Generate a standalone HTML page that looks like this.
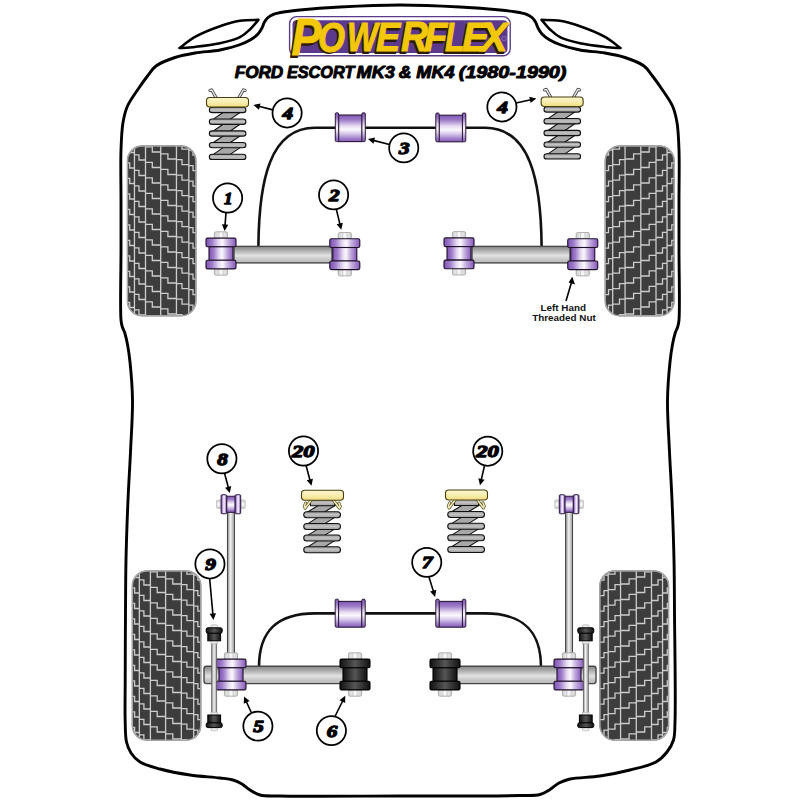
<!DOCTYPE html><html><head><meta charset="utf-8"><style>html,body{margin:0;padding:0;background:#fff;}svg{display:block;}</style></head><body><svg width="800" height="800" viewBox="0 0 800 800">
<defs>
<linearGradient id="pgH" x1="0" y1="0" x2="1" y2="0">
 <stop offset="0" stop-color="#7d52b2"/><stop offset="0.2" stop-color="#a07ecb"/><stop offset="0.42" stop-color="#e6daf1"/><stop offset="0.55" stop-color="#fbf8fd"/><stop offset="0.72" stop-color="#c8b3e0"/><stop offset="1" stop-color="#8658bb"/>
</linearGradient>
<linearGradient id="pgV" x1="0" y1="0" x2="0" y2="1">
 <stop offset="0" stop-color="#8058b2"/><stop offset="0.18" stop-color="#9c7ac6"/><stop offset="0.42" stop-color="#e8ddf2"/><stop offset="0.55" stop-color="#fbf8fd"/><stop offset="0.7" stop-color="#d8c9e9"/><stop offset="0.88" stop-color="#a080cb"/><stop offset="1" stop-color="#885cba"/>
</linearGradient>
<linearGradient id="bgH" x1="0" y1="0" x2="1" y2="0">
 <stop offset="0" stop-color="#111"/><stop offset="0.5" stop-color="#555"/><stop offset="1" stop-color="#111"/>
</linearGradient>
<linearGradient id="boltH" x1="0" y1="0" x2="1" y2="0">
 <stop offset="0" stop-color="#cfcfcf"/><stop offset="0.5" stop-color="#fafafa"/><stop offset="1" stop-color="#cfcfcf"/>
</linearGradient>
<linearGradient id="armV" x1="0" y1="0" x2="0" y2="1">
 <stop offset="0" stop-color="#8c8c8c"/><stop offset="0.15" stop-color="#9c9c9c"/><stop offset="0.55" stop-color="#e2e2e2"/><stop offset="0.8" stop-color="#c6c6c6"/><stop offset="1" stop-color="#b8b8b8"/>
</linearGradient>
<linearGradient id="rodH" x1="0" y1="0" x2="1" y2="0">
 <stop offset="0" stop-color="#8a8a8a"/><stop offset="0.45" stop-color="#f2f2f2"/><stop offset="1" stop-color="#9a9a9a"/>
</linearGradient>
<linearGradient id="boltV" x1="0" y1="0" x2="0" y2="1">
 <stop offset="0" stop-color="#cfcfcf"/><stop offset="0.5" stop-color="#fafafa"/><stop offset="1" stop-color="#cfcfcf"/>
</linearGradient>
<linearGradient id="coilV" x1="0" y1="0" x2="0" y2="1">
 <stop offset="0" stop-color="#9a9a9a"/><stop offset="0.5" stop-color="#c4c4c4"/><stop offset="1" stop-color="#9a9a9a"/>
</linearGradient>
<linearGradient id="padV" x1="0" y1="0" x2="0" y2="1">
 <stop offset="0" stop-color="#fbf6cf"/><stop offset="0.5" stop-color="#f8eeb0"/><stop offset="1" stop-color="#efdc80"/>
</linearGradient>
</defs>
<rect width="800" height="800" fill="#fff"/>
<path d="M400.00,5.00 C380.00,5.00 357.97,6.03 340.00,7.00 C325.31,7.80 310.12,9.01 300.00,10.00 C293.79,10.61 289.60,11.02 285.00,11.80 C281.03,12.47 277.05,13.06 274.00,14.20 C271.62,15.09 269.62,16.12 268.00,17.50 C266.52,18.76 265.48,20.32 264.50,22.00 C263.45,23.79 263.04,26.05 262.00,28.00 C260.90,30.05 259.70,32.17 258.00,34.00 C256.12,36.04 253.76,37.81 251.00,39.50 C247.64,41.55 243.54,43.38 239.00,45.00 C233.47,46.98 226.82,48.70 220.00,50.00 C212.28,51.47 202.84,51.65 195.00,53.00 C187.93,54.22 181.48,55.35 175.00,57.50 C168.47,59.67 160.79,62.41 156.00,66.00 C152.19,68.85 150.37,72.32 147.50,76.00 C144.21,80.21 140.76,85.13 137.50,90.00 C134.09,95.11 129.93,100.44 127.50,106.00 C125.18,111.29 124.07,116.24 123.00,122.50 C121.64,130.45 121.38,139.47 121.00,150.00 C120.48,164.19 121.00,183.33 121.00,200.00 C121.00,216.67 121.00,231.93 121.00,250.00 C121.00,271.38 120.00,309.12 121.00,320.00 C121.31,323.34 121.58,324.36 122.20,326.50 C122.84,328.70 124.00,330.47 124.80,333.00 C125.86,336.36 126.78,340.63 127.60,345.00 C128.56,350.15 129.30,355.19 130.00,362.00 C131.05,372.14 132.31,386.46 132.50,400.00 C132.72,415.52 131.35,433.34 130.60,450.00 C129.85,466.67 128.74,482.57 128.00,500.00 C127.19,519.09 126.41,540.71 126.00,560.00 C125.61,577.95 125.63,593.51 125.50,612.00 C125.35,633.15 125.24,660.05 125.20,680.00 C125.17,695.68 124.83,710.57 125.20,722.00 C125.46,729.89 125.21,736.41 126.50,742.00 C127.49,746.30 128.81,749.71 131.00,753.00 C133.26,756.40 136.05,759.52 140.00,762.00 C145.09,765.20 152.58,766.97 160.00,769.00 C168.91,771.44 179.96,773.50 190.00,775.00 C199.96,776.49 212.07,776.99 220.00,778.00 C225.24,778.66 229.13,778.86 233.00,780.00 C236.35,780.98 239.18,782.34 242.00,784.00 C244.85,785.67 247.10,788.21 250.00,790.00 C253.07,791.90 255.96,793.94 260.00,795.00 C265.40,796.42 270.53,795.76 280.00,796.00 C303.19,796.58 360.00,796.08 400.00,796.00 C440.00,795.92 496.81,796.13 520.00,795.50 C529.47,795.24 534.60,795.92 540.00,794.50 C544.04,793.44 546.83,791.42 550.00,789.50 C553.16,787.59 555.72,784.74 559.00,783.00 C562.37,781.22 565.35,780.06 570.00,779.00 C577.46,777.30 590.04,777.49 600.00,776.00 C610.04,774.50 620.42,772.43 630.00,770.00 C639.04,767.71 649.46,765.73 656.00,762.00 C660.83,759.25 664.05,755.76 667.00,752.00 C669.83,748.39 672.14,744.57 673.50,740.00 C675.07,734.75 674.66,730.55 675.00,722.00 C675.83,700.89 674.71,641.88 674.50,612.00 C674.35,591.46 674.39,577.95 674.00,560.00 C673.59,540.71 672.81,519.09 672.00,500.00 C671.26,482.57 670.15,466.67 669.40,450.00 C668.65,433.34 667.28,415.52 667.50,400.00 C667.69,386.46 668.95,372.14 670.00,362.00 C670.70,355.19 671.44,350.15 672.40,345.00 C673.22,340.63 674.14,336.36 675.20,333.00 C676.00,330.47 677.16,328.70 677.80,326.50 C678.42,324.36 678.69,323.34 679.00,320.00 C680.00,309.12 679.00,271.38 679.00,250.00 C679.00,231.93 679.00,216.67 679.00,200.00 C679.00,183.33 679.52,164.19 679.00,150.00 C678.62,139.47 678.36,130.45 677.00,122.50 C675.93,116.24 674.82,111.29 672.50,106.00 C670.07,100.44 665.91,95.11 662.50,90.00 C659.24,85.13 655.79,80.21 652.50,76.00 C649.63,72.32 647.81,68.85 644.00,66.00 C639.21,62.41 631.53,59.67 625.00,57.50 C618.52,55.35 612.07,54.22 605.00,53.00 C597.16,51.65 587.72,51.47 580.00,50.00 C573.18,48.70 566.53,46.98 561.00,45.00 C556.46,43.38 552.36,41.55 549.00,39.50 C546.24,37.81 543.88,36.04 542.00,34.00 C540.30,32.17 539.10,30.05 538.00,28.00 C536.96,26.05 536.55,23.79 535.50,22.00 C534.52,20.32 533.48,18.76 532.00,17.50 C530.38,16.12 528.38,15.09 526.00,14.20 C522.95,13.06 518.97,12.47 515.00,11.80 C510.40,11.02 506.21,10.61 500.00,10.00 C489.88,9.01 474.69,7.80 460.00,7.00 C442.03,6.03 420.00,5.00 400.00,5.00Z" fill="none" stroke="#000" stroke-width="2.9"/>
<path d="M179.40,48.10 C182.00,46.23 188.98,40.29 195.00,36.90 C202.17,32.87 212.04,29.02 220.00,26.25 C226.95,23.83 233.41,21.86 240.00,20.80 C246.23,19.79 255.42,19.97 258.50,19.80 C256.98,21.50 252.61,27.03 249.40,30.00 C246.42,32.77 243.94,35.17 240.00,37.20 C234.76,39.89 227.10,41.72 220.00,43.30 C212.19,45.04 202.37,46.09 195.00,46.90 C189.20,47.54 182.00,47.90 179.40,48.10Z" fill="none" stroke="#000" stroke-width="2.5" stroke-linejoin="round"/>
<g transform="translate(800,0) scale(-1,1)"><path d="M179.40,48.10 C182.00,46.23 188.98,40.29 195.00,36.90 C202.17,32.87 212.04,29.02 220.00,26.25 C226.95,23.83 233.41,21.86 240.00,20.80 C246.23,19.79 255.42,19.97 258.50,19.80 C256.98,21.50 252.61,27.03 249.40,30.00 C246.42,32.77 243.94,35.17 240.00,37.20 C234.76,39.89 227.10,41.72 220.00,43.30 C212.19,45.04 202.37,46.09 195.00,46.90 C189.20,47.54 182.00,47.90 179.40,48.10Z" fill="none" stroke="#000" stroke-width="2.5" stroke-linejoin="round"/></g>
<rect x="289.6" y="16.6" width="220.6" height="39.2" rx="7" fill="#fff" stroke="#5a3a8a" stroke-width="1.4"/>
<rect x="292.5" y="20.3" width="215" height="32.6" rx="4" fill="#5b3a8e"/>
<g font-family="Liberation Sans" font-weight="bold" font-style="italic" transform="translate(-1.6,1.6)" fill="#2b1a08" stroke="#2b1a08" stroke-width="1.8" stroke-linejoin="round"><text x="291.50" y="55.00" font-size="51.44" textLength="29.76" lengthAdjust="spacingAndGlyphs">P</text><text x="318.00" y="51.50" font-size="42.52" textLength="26.97" lengthAdjust="spacingAndGlyphs">O</text><text x="347.00" y="51.00" font-size="40.47" textLength="30.69" lengthAdjust="spacingAndGlyphs">W</text><text x="376.00" y="51.00" font-size="40.47" textLength="24.18" lengthAdjust="spacingAndGlyphs">E</text><text x="401.00" y="51.00" font-size="41.84" textLength="26.97" lengthAdjust="spacingAndGlyphs">R</text><text x="424.00" y="51.00" font-size="40.47" textLength="23.25" lengthAdjust="spacingAndGlyphs">F</text><text x="445.00" y="51.00" font-size="40.47" textLength="19.53" lengthAdjust="spacingAndGlyphs">L</text><text x="462.00" y="51.00" font-size="40.47" textLength="26.97" lengthAdjust="spacingAndGlyphs">E</text><text x="481.00" y="51.00" font-size="40.47" textLength="26.51" lengthAdjust="spacingAndGlyphs">X</text></g>
<g font-family="Liberation Sans" font-weight="bold" font-style="italic" fill="#f3c80a" stroke="#f3c80a" stroke-width="1.0" stroke-linejoin="round"><text x="291.50" y="55.00" font-size="51.44" textLength="29.76" lengthAdjust="spacingAndGlyphs">P</text><text x="318.00" y="51.50" font-size="42.52" textLength="26.97" lengthAdjust="spacingAndGlyphs">O</text><text x="347.00" y="51.00" font-size="40.47" textLength="30.69" lengthAdjust="spacingAndGlyphs">W</text><text x="376.00" y="51.00" font-size="40.47" textLength="24.18" lengthAdjust="spacingAndGlyphs">E</text><text x="401.00" y="51.00" font-size="41.84" textLength="26.97" lengthAdjust="spacingAndGlyphs">R</text><text x="424.00" y="51.00" font-size="40.47" textLength="23.25" lengthAdjust="spacingAndGlyphs">F</text><text x="445.00" y="51.00" font-size="40.47" textLength="19.53" lengthAdjust="spacingAndGlyphs">L</text><text x="462.00" y="51.00" font-size="40.47" textLength="26.97" lengthAdjust="spacingAndGlyphs">E</text><text x="481.00" y="51.00" font-size="40.47" textLength="26.51" lengthAdjust="spacingAndGlyphs">X</text></g>
<circle cx="504" cy="38.5" r="2.2" fill="none" stroke="#a58fc0" stroke-width="0.6"/>
<g font-family="Liberation Sans" font-weight="bold" font-style="italic" font-size="15.6" fill="#000" stroke="#000" stroke-width="0.9" stroke-linejoin="round"><text x="234.70" y="77.5" textLength="48.50" lengthAdjust="spacingAndGlyphs">FORD</text><text x="286.90" y="77.5" textLength="67.50" lengthAdjust="spacingAndGlyphs">ESCORT</text><text x="356.60" y="77.5" textLength="38.30" lengthAdjust="spacingAndGlyphs">MK3</text><text x="398.80" y="77.5" textLength="12.65" lengthAdjust="spacingAndGlyphs">&amp;</text><text x="416.30" y="77.5" textLength="38.30" lengthAdjust="spacingAndGlyphs">MK4</text><text x="458.80" y="77.5" textLength="107.65" lengthAdjust="spacingAndGlyphs">(1980-1990)</text></g>
<clipPath id="c127145"><rect x="127.00" y="145.60" width="69.30" height="170.60" rx="15" ry="15"/></clipPath><rect x="127.00" y="145.60" width="69.30" height="170.60" rx="15" ry="15" fill="#3d3d3d"/><g clip-path="url(#c127145)"><g transform="translate(127.00,145.60)"><path d="M7.45,-2.00 V172.60 M18.50,-2.00 V172.60 M33.70,-2.00 V172.60 M49.45,-2.00 V172.60 M61.80,-2.00 V172.60 M0.00,1.80 H2.70 V6.90 H7.45 M0.00,17.30 H2.70 V22.40 H7.45 M0.00,32.80 H2.70 V37.90 H7.45 M0.00,48.30 H2.70 V53.40 H7.45 M0.00,63.80 H2.70 V68.90 H7.45 M0.00,79.30 H2.70 V84.40 H7.45 M0.00,94.80 H2.70 V99.90 H7.45 M0.00,110.30 H2.70 V115.40 H7.45 M0.00,125.80 H2.70 V130.90 H7.45 M0.00,141.30 H2.70 V146.40 H7.45 M0.00,156.80 H2.70 V161.90 H7.45 M0.00,172.30 H2.70 V177.40 H7.45 M7.45,-6.20 H12.00 V-1.10 H18.50 M7.45,9.30 H12.00 V14.40 H18.50 M7.45,24.80 H12.00 V29.90 H18.50 M7.45,40.30 H12.00 V45.40 H18.50 M7.45,55.80 H12.00 V60.90 H18.50 M7.45,71.30 H12.00 V76.40 H18.50 M7.45,86.80 H12.00 V91.90 H18.50 M7.45,102.30 H12.00 V107.40 H18.50 M7.45,117.80 H12.00 V122.90 H18.50 M7.45,133.30 H12.00 V138.40 H18.50 M7.45,148.80 H12.00 V153.90 H18.50 M7.45,164.30 H12.00 V169.40 H18.50 M18.50,1.30 H25.30 V6.40 H33.70 M18.50,16.80 H25.30 V21.90 H33.70 M18.50,32.30 H25.30 V37.40 H33.70 M18.50,47.80 H25.30 V52.90 H33.70 M18.50,63.30 H25.30 V68.40 H33.70 M18.50,78.80 H25.30 V83.90 H33.70 M18.50,94.30 H25.30 V99.40 H33.70 M18.50,109.80 H25.30 V114.90 H33.70 M18.50,125.30 H25.30 V130.40 H33.70 M18.50,140.80 H25.30 V145.90 H33.70 M18.50,156.30 H25.30 V161.40 H33.70 M18.50,171.80 H25.30 V176.90 H33.70 M33.70,-7.20 H40.90 V-2.10 H49.45 M33.70,8.30 H40.90 V13.40 H49.45 M33.70,23.80 H40.90 V28.90 H49.45 M33.70,39.30 H40.90 V44.40 H49.45 M33.70,54.80 H40.90 V59.90 H49.45 M33.70,70.30 H40.90 V75.40 H49.45 M33.70,85.80 H40.90 V90.90 H49.45 M33.70,101.30 H40.90 V106.40 H49.45 M33.70,116.80 H40.90 V121.90 H49.45 M33.70,132.30 H40.90 V137.40 H49.45 M33.70,147.80 H40.90 V152.90 H49.45 M33.70,163.30 H40.90 V168.40 H49.45 M49.45,-1.50 H55.00 V3.60 H61.80 M49.45,14.00 H55.00 V19.10 H61.80 M49.45,29.50 H55.00 V34.60 H61.80 M49.45,45.00 H55.00 V50.10 H61.80 M49.45,60.50 H55.00 V65.60 H61.80 M49.45,76.00 H55.00 V81.10 H61.80 M49.45,91.50 H55.00 V96.60 H61.80 M49.45,107.00 H55.00 V112.10 H61.80 M49.45,122.50 H55.00 V127.60 H61.80 M49.45,138.00 H55.00 V143.10 H61.80 M49.45,153.50 H55.00 V158.60 H61.80 M49.45,169.00 H55.00 V174.10 H61.80 M61.80,4.50 H66.00 V9.60 H70.00 M61.80,20.00 H66.00 V25.10 H70.00 M61.80,35.50 H66.00 V40.60 H70.00 M61.80,51.00 H66.00 V56.10 H70.00 M61.80,66.50 H66.00 V71.60 H70.00 M61.80,82.00 H66.00 V87.10 H70.00 M61.80,97.50 H66.00 V102.60 H70.00 M61.80,113.00 H66.00 V118.10 H70.00 M61.80,128.50 H66.00 V133.60 H70.00 M61.80,144.00 H66.00 V149.10 H70.00 M61.80,159.50 H66.00 V164.60 H70.00 M61.80,175.00 H66.00 V180.10 H70.00" stroke="#cdcdcd" stroke-width="1.3" fill="none"/></g></g><rect x="127.40" y="146.00" width="68.50" height="169.80" rx="15" ry="15" fill="none" stroke="#a6a6a6" stroke-width="1.5"/>
<clipPath id="c604145"><rect x="604.80" y="145.60" width="69.70" height="170.60" rx="15" ry="15"/></clipPath><rect x="604.80" y="145.60" width="69.70" height="170.60" rx="15" ry="15" fill="#3d3d3d"/><g clip-path="url(#c604145)"><g transform="translate(604.80,145.60) translate(69.70,0) scale(-1,1)"><path d="M7.45,-2.00 V172.60 M18.50,-2.00 V172.60 M33.70,-2.00 V172.60 M49.45,-2.00 V172.60 M61.80,-2.00 V172.60 M0.00,1.80 H2.70 V6.90 H7.45 M0.00,17.30 H2.70 V22.40 H7.45 M0.00,32.80 H2.70 V37.90 H7.45 M0.00,48.30 H2.70 V53.40 H7.45 M0.00,63.80 H2.70 V68.90 H7.45 M0.00,79.30 H2.70 V84.40 H7.45 M0.00,94.80 H2.70 V99.90 H7.45 M0.00,110.30 H2.70 V115.40 H7.45 M0.00,125.80 H2.70 V130.90 H7.45 M0.00,141.30 H2.70 V146.40 H7.45 M0.00,156.80 H2.70 V161.90 H7.45 M0.00,172.30 H2.70 V177.40 H7.45 M7.45,-6.20 H12.00 V-1.10 H18.50 M7.45,9.30 H12.00 V14.40 H18.50 M7.45,24.80 H12.00 V29.90 H18.50 M7.45,40.30 H12.00 V45.40 H18.50 M7.45,55.80 H12.00 V60.90 H18.50 M7.45,71.30 H12.00 V76.40 H18.50 M7.45,86.80 H12.00 V91.90 H18.50 M7.45,102.30 H12.00 V107.40 H18.50 M7.45,117.80 H12.00 V122.90 H18.50 M7.45,133.30 H12.00 V138.40 H18.50 M7.45,148.80 H12.00 V153.90 H18.50 M7.45,164.30 H12.00 V169.40 H18.50 M18.50,1.30 H25.30 V6.40 H33.70 M18.50,16.80 H25.30 V21.90 H33.70 M18.50,32.30 H25.30 V37.40 H33.70 M18.50,47.80 H25.30 V52.90 H33.70 M18.50,63.30 H25.30 V68.40 H33.70 M18.50,78.80 H25.30 V83.90 H33.70 M18.50,94.30 H25.30 V99.40 H33.70 M18.50,109.80 H25.30 V114.90 H33.70 M18.50,125.30 H25.30 V130.40 H33.70 M18.50,140.80 H25.30 V145.90 H33.70 M18.50,156.30 H25.30 V161.40 H33.70 M18.50,171.80 H25.30 V176.90 H33.70 M33.70,-7.20 H40.90 V-2.10 H49.45 M33.70,8.30 H40.90 V13.40 H49.45 M33.70,23.80 H40.90 V28.90 H49.45 M33.70,39.30 H40.90 V44.40 H49.45 M33.70,54.80 H40.90 V59.90 H49.45 M33.70,70.30 H40.90 V75.40 H49.45 M33.70,85.80 H40.90 V90.90 H49.45 M33.70,101.30 H40.90 V106.40 H49.45 M33.70,116.80 H40.90 V121.90 H49.45 M33.70,132.30 H40.90 V137.40 H49.45 M33.70,147.80 H40.90 V152.90 H49.45 M33.70,163.30 H40.90 V168.40 H49.45 M49.45,-1.50 H55.00 V3.60 H61.80 M49.45,14.00 H55.00 V19.10 H61.80 M49.45,29.50 H55.00 V34.60 H61.80 M49.45,45.00 H55.00 V50.10 H61.80 M49.45,60.50 H55.00 V65.60 H61.80 M49.45,76.00 H55.00 V81.10 H61.80 M49.45,91.50 H55.00 V96.60 H61.80 M49.45,107.00 H55.00 V112.10 H61.80 M49.45,122.50 H55.00 V127.60 H61.80 M49.45,138.00 H55.00 V143.10 H61.80 M49.45,153.50 H55.00 V158.60 H61.80 M49.45,169.00 H55.00 V174.10 H61.80 M61.80,4.50 H66.00 V9.60 H70.00 M61.80,20.00 H66.00 V25.10 H70.00 M61.80,35.50 H66.00 V40.60 H70.00 M61.80,51.00 H66.00 V56.10 H70.00 M61.80,66.50 H66.00 V71.60 H70.00 M61.80,82.00 H66.00 V87.10 H70.00 M61.80,97.50 H66.00 V102.60 H70.00 M61.80,113.00 H66.00 V118.10 H70.00 M61.80,128.50 H66.00 V133.60 H70.00 M61.80,144.00 H66.00 V149.10 H70.00 M61.80,159.50 H66.00 V164.60 H70.00 M61.80,175.00 H66.00 V180.10 H70.00" stroke="#cdcdcd" stroke-width="1.3" fill="none"/></g></g><rect x="605.20" y="146.00" width="68.90" height="169.80" rx="15" ry="15" fill="none" stroke="#a6a6a6" stroke-width="1.5"/>
<clipPath id="c131570"><rect x="131.90" y="570.60" width="69.30" height="170.00" rx="15" ry="15"/></clipPath><rect x="131.90" y="570.60" width="69.30" height="170.00" rx="15" ry="15" fill="#3d3d3d"/><g clip-path="url(#c131570)"><g transform="translate(131.90,570.60)"><path d="M7.45,-2.00 V172.00 M18.50,-2.00 V172.00 M33.70,-2.00 V172.00 M49.45,-2.00 V172.00 M61.80,-2.00 V172.00 M0.00,1.80 H2.70 V6.90 H7.45 M0.00,17.30 H2.70 V22.40 H7.45 M0.00,32.80 H2.70 V37.90 H7.45 M0.00,48.30 H2.70 V53.40 H7.45 M0.00,63.80 H2.70 V68.90 H7.45 M0.00,79.30 H2.70 V84.40 H7.45 M0.00,94.80 H2.70 V99.90 H7.45 M0.00,110.30 H2.70 V115.40 H7.45 M0.00,125.80 H2.70 V130.90 H7.45 M0.00,141.30 H2.70 V146.40 H7.45 M0.00,156.80 H2.70 V161.90 H7.45 M0.00,172.30 H2.70 V177.40 H7.45 M7.45,-6.20 H12.00 V-1.10 H18.50 M7.45,9.30 H12.00 V14.40 H18.50 M7.45,24.80 H12.00 V29.90 H18.50 M7.45,40.30 H12.00 V45.40 H18.50 M7.45,55.80 H12.00 V60.90 H18.50 M7.45,71.30 H12.00 V76.40 H18.50 M7.45,86.80 H12.00 V91.90 H18.50 M7.45,102.30 H12.00 V107.40 H18.50 M7.45,117.80 H12.00 V122.90 H18.50 M7.45,133.30 H12.00 V138.40 H18.50 M7.45,148.80 H12.00 V153.90 H18.50 M7.45,164.30 H12.00 V169.40 H18.50 M18.50,1.30 H25.30 V6.40 H33.70 M18.50,16.80 H25.30 V21.90 H33.70 M18.50,32.30 H25.30 V37.40 H33.70 M18.50,47.80 H25.30 V52.90 H33.70 M18.50,63.30 H25.30 V68.40 H33.70 M18.50,78.80 H25.30 V83.90 H33.70 M18.50,94.30 H25.30 V99.40 H33.70 M18.50,109.80 H25.30 V114.90 H33.70 M18.50,125.30 H25.30 V130.40 H33.70 M18.50,140.80 H25.30 V145.90 H33.70 M18.50,156.30 H25.30 V161.40 H33.70 M18.50,171.80 H25.30 V176.90 H33.70 M33.70,-7.20 H40.90 V-2.10 H49.45 M33.70,8.30 H40.90 V13.40 H49.45 M33.70,23.80 H40.90 V28.90 H49.45 M33.70,39.30 H40.90 V44.40 H49.45 M33.70,54.80 H40.90 V59.90 H49.45 M33.70,70.30 H40.90 V75.40 H49.45 M33.70,85.80 H40.90 V90.90 H49.45 M33.70,101.30 H40.90 V106.40 H49.45 M33.70,116.80 H40.90 V121.90 H49.45 M33.70,132.30 H40.90 V137.40 H49.45 M33.70,147.80 H40.90 V152.90 H49.45 M33.70,163.30 H40.90 V168.40 H49.45 M49.45,-1.50 H55.00 V3.60 H61.80 M49.45,14.00 H55.00 V19.10 H61.80 M49.45,29.50 H55.00 V34.60 H61.80 M49.45,45.00 H55.00 V50.10 H61.80 M49.45,60.50 H55.00 V65.60 H61.80 M49.45,76.00 H55.00 V81.10 H61.80 M49.45,91.50 H55.00 V96.60 H61.80 M49.45,107.00 H55.00 V112.10 H61.80 M49.45,122.50 H55.00 V127.60 H61.80 M49.45,138.00 H55.00 V143.10 H61.80 M49.45,153.50 H55.00 V158.60 H61.80 M49.45,169.00 H55.00 V174.10 H61.80 M61.80,4.50 H66.00 V9.60 H70.00 M61.80,20.00 H66.00 V25.10 H70.00 M61.80,35.50 H66.00 V40.60 H70.00 M61.80,51.00 H66.00 V56.10 H70.00 M61.80,66.50 H66.00 V71.60 H70.00 M61.80,82.00 H66.00 V87.10 H70.00 M61.80,97.50 H66.00 V102.60 H70.00 M61.80,113.00 H66.00 V118.10 H70.00 M61.80,128.50 H66.00 V133.60 H70.00 M61.80,144.00 H66.00 V149.10 H70.00 M61.80,159.50 H66.00 V164.60 H70.00 M61.80,175.00 H66.00 V180.10 H70.00" stroke="#cdcdcd" stroke-width="1.3" fill="none"/></g></g><rect x="132.30" y="571.00" width="68.50" height="169.20" rx="15" ry="15" fill="none" stroke="#a6a6a6" stroke-width="1.5"/>
<clipPath id="c599570"><rect x="599.50" y="570.60" width="69.50" height="170.00" rx="15" ry="15"/></clipPath><rect x="599.50" y="570.60" width="69.50" height="170.00" rx="15" ry="15" fill="#3d3d3d"/><g clip-path="url(#c599570)"><g transform="translate(599.50,570.60) translate(70.50,0) scale(-1,1)"><path d="M7.45,-2.00 V172.00 M18.50,-2.00 V172.00 M33.70,-2.00 V172.00 M49.45,-2.00 V172.00 M61.80,-2.00 V172.00 M0.00,1.80 H2.70 V6.90 H7.45 M0.00,17.30 H2.70 V22.40 H7.45 M0.00,32.80 H2.70 V37.90 H7.45 M0.00,48.30 H2.70 V53.40 H7.45 M0.00,63.80 H2.70 V68.90 H7.45 M0.00,79.30 H2.70 V84.40 H7.45 M0.00,94.80 H2.70 V99.90 H7.45 M0.00,110.30 H2.70 V115.40 H7.45 M0.00,125.80 H2.70 V130.90 H7.45 M0.00,141.30 H2.70 V146.40 H7.45 M0.00,156.80 H2.70 V161.90 H7.45 M0.00,172.30 H2.70 V177.40 H7.45 M7.45,-6.20 H12.00 V-1.10 H18.50 M7.45,9.30 H12.00 V14.40 H18.50 M7.45,24.80 H12.00 V29.90 H18.50 M7.45,40.30 H12.00 V45.40 H18.50 M7.45,55.80 H12.00 V60.90 H18.50 M7.45,71.30 H12.00 V76.40 H18.50 M7.45,86.80 H12.00 V91.90 H18.50 M7.45,102.30 H12.00 V107.40 H18.50 M7.45,117.80 H12.00 V122.90 H18.50 M7.45,133.30 H12.00 V138.40 H18.50 M7.45,148.80 H12.00 V153.90 H18.50 M7.45,164.30 H12.00 V169.40 H18.50 M18.50,1.30 H25.30 V6.40 H33.70 M18.50,16.80 H25.30 V21.90 H33.70 M18.50,32.30 H25.30 V37.40 H33.70 M18.50,47.80 H25.30 V52.90 H33.70 M18.50,63.30 H25.30 V68.40 H33.70 M18.50,78.80 H25.30 V83.90 H33.70 M18.50,94.30 H25.30 V99.40 H33.70 M18.50,109.80 H25.30 V114.90 H33.70 M18.50,125.30 H25.30 V130.40 H33.70 M18.50,140.80 H25.30 V145.90 H33.70 M18.50,156.30 H25.30 V161.40 H33.70 M18.50,171.80 H25.30 V176.90 H33.70 M33.70,-7.20 H40.90 V-2.10 H49.45 M33.70,8.30 H40.90 V13.40 H49.45 M33.70,23.80 H40.90 V28.90 H49.45 M33.70,39.30 H40.90 V44.40 H49.45 M33.70,54.80 H40.90 V59.90 H49.45 M33.70,70.30 H40.90 V75.40 H49.45 M33.70,85.80 H40.90 V90.90 H49.45 M33.70,101.30 H40.90 V106.40 H49.45 M33.70,116.80 H40.90 V121.90 H49.45 M33.70,132.30 H40.90 V137.40 H49.45 M33.70,147.80 H40.90 V152.90 H49.45 M33.70,163.30 H40.90 V168.40 H49.45 M49.45,-1.50 H55.00 V3.60 H61.80 M49.45,14.00 H55.00 V19.10 H61.80 M49.45,29.50 H55.00 V34.60 H61.80 M49.45,45.00 H55.00 V50.10 H61.80 M49.45,60.50 H55.00 V65.60 H61.80 M49.45,76.00 H55.00 V81.10 H61.80 M49.45,91.50 H55.00 V96.60 H61.80 M49.45,107.00 H55.00 V112.10 H61.80 M49.45,122.50 H55.00 V127.60 H61.80 M49.45,138.00 H55.00 V143.10 H61.80 M49.45,153.50 H55.00 V158.60 H61.80 M49.45,169.00 H55.00 V174.10 H61.80 M61.80,4.50 H66.00 V9.60 H70.00 M61.80,20.00 H66.00 V25.10 H70.00 M61.80,35.50 H66.00 V40.60 H70.00 M61.80,51.00 H66.00 V56.10 H70.00 M61.80,66.50 H66.00 V71.60 H70.00 M61.80,82.00 H66.00 V87.10 H70.00 M61.80,97.50 H66.00 V102.60 H70.00 M61.80,113.00 H66.00 V118.10 H70.00 M61.80,128.50 H66.00 V133.60 H70.00 M61.80,144.00 H66.00 V149.10 H70.00 M61.80,159.50 H66.00 V164.60 H70.00 M61.80,175.00 H66.00 V180.10 H70.00" stroke="#cdcdcd" stroke-width="1.3" fill="none"/></g></g><rect x="599.90" y="571.00" width="68.70" height="169.20" rx="15" ry="15" fill="none" stroke="#a6a6a6" stroke-width="1.5"/>
<g transform="translate(206.50,97.50)"><path d="M9.8,0.5 L5.2,-7.6 L3.4,-7.0" stroke="#3a3a3a" stroke-width="3.0" fill="none" stroke-linecap="round" stroke-linejoin="round"/><path d="M9.8,0.5 L5.2,-7.6 L3.4,-7.0" stroke="#e6e6e6" stroke-width="1.5" fill="none" stroke-linecap="round" stroke-linejoin="round"/><path d="M32.2,0.5 L36.8,-7.6 L38.6,-7.0" stroke="#3a3a3a" stroke-width="3.0" fill="none" stroke-linecap="round" stroke-linejoin="round"/><path d="M32.2,0.5 L36.8,-7.6 L38.6,-7.0" stroke="#e6e6e6" stroke-width="1.5" fill="none" stroke-linecap="round" stroke-linejoin="round"/><path d="M5.45,22.65 L22.35,22.65 L35.05,14.00 L18.05,14.00 Z" fill="#a8a8a8" stroke="#111" stroke-width="1.1" stroke-linejoin="round"/><path d="M5.45,34.45 L22.35,34.45 L35.05,25.75 L18.05,25.75 Z" fill="#a8a8a8" stroke="#111" stroke-width="1.1" stroke-linejoin="round"/><path d="M5.45,46.05 L22.35,46.05 L35.05,37.55 L18.05,37.55 Z" fill="#a8a8a8" stroke="#111" stroke-width="1.1" stroke-linejoin="round"/><path d="M5.45,57.85 L22.35,57.85 L35.05,49.15 L18.05,49.15 Z" fill="#a8a8a8" stroke="#111" stroke-width="1.1" stroke-linejoin="round"/><rect x="2.85" y="9.80" width="36.55" height="5.30" rx="2.65" fill="url(#coilV)" stroke="#111" stroke-width="1.1"/><rect x="2.85" y="21.55" width="36.55" height="5.30" rx="2.65" fill="url(#coilV)" stroke="#111" stroke-width="1.1"/><rect x="2.85" y="33.35" width="36.55" height="5.30" rx="2.65" fill="url(#coilV)" stroke="#111" stroke-width="1.1"/><rect x="2.85" y="44.95" width="36.55" height="5.30" rx="2.65" fill="url(#coilV)" stroke="#111" stroke-width="1.1"/><rect x="2.85" y="56.75" width="36.55" height="5.30" rx="2.65" fill="url(#coilV)" stroke="#111" stroke-width="1.1"/><rect x="0" y="0" width="42" height="9.5" rx="3.2" fill="url(#padV)" stroke="#4a3e10" stroke-width="1.1"/></g>
<g transform="translate(541.15,97.00)"><path d="M9.8,0.5 L5.2,-7.6 L3.4,-7.0" stroke="#3a3a3a" stroke-width="3.0" fill="none" stroke-linecap="round" stroke-linejoin="round"/><path d="M9.8,0.5 L5.2,-7.6 L3.4,-7.0" stroke="#e6e6e6" stroke-width="1.5" fill="none" stroke-linecap="round" stroke-linejoin="round"/><path d="M32.2,0.5 L36.8,-7.6 L38.6,-7.0" stroke="#3a3a3a" stroke-width="3.0" fill="none" stroke-linecap="round" stroke-linejoin="round"/><path d="M32.2,0.5 L36.8,-7.6 L38.6,-7.0" stroke="#e6e6e6" stroke-width="1.5" fill="none" stroke-linecap="round" stroke-linejoin="round"/><path d="M5.45,22.65 L22.35,22.65 L35.05,14.00 L18.05,14.00 Z" fill="#a8a8a8" stroke="#111" stroke-width="1.1" stroke-linejoin="round"/><path d="M5.45,34.45 L22.35,34.45 L35.05,25.75 L18.05,25.75 Z" fill="#a8a8a8" stroke="#111" stroke-width="1.1" stroke-linejoin="round"/><path d="M5.45,46.05 L22.35,46.05 L35.05,37.55 L18.05,37.55 Z" fill="#a8a8a8" stroke="#111" stroke-width="1.1" stroke-linejoin="round"/><path d="M5.45,57.85 L22.35,57.85 L35.05,49.15 L18.05,49.15 Z" fill="#a8a8a8" stroke="#111" stroke-width="1.1" stroke-linejoin="round"/><rect x="2.85" y="9.80" width="36.55" height="5.30" rx="2.65" fill="url(#coilV)" stroke="#111" stroke-width="1.1"/><rect x="2.85" y="21.55" width="36.55" height="5.30" rx="2.65" fill="url(#coilV)" stroke="#111" stroke-width="1.1"/><rect x="2.85" y="33.35" width="36.55" height="5.30" rx="2.65" fill="url(#coilV)" stroke="#111" stroke-width="1.1"/><rect x="2.85" y="44.95" width="36.55" height="5.30" rx="2.65" fill="url(#coilV)" stroke="#111" stroke-width="1.1"/><rect x="2.85" y="56.75" width="36.55" height="5.30" rx="2.65" fill="url(#coilV)" stroke="#111" stroke-width="1.1"/><rect x="0" y="0" width="42" height="9.5" rx="3.2" fill="url(#padV)" stroke="#4a3e10" stroke-width="1.1"/></g>
<path d="M258.4,246 C259,180 270,127.8 315,127.8 L485,127.8 C530,127.8 541,180 541.6,246" fill="none" stroke="#111" stroke-width="2.6"/>
<g transform="translate(335.30,112.80)"><rect x="3.2" y="2.2" width="23.60" height="26.60" fill="url(#pgV)" stroke="#2a1838" stroke-width="1.1"/><rect x="0" y="0" width="3.4" height="28.80" rx="1.2" fill="url(#pgV)" stroke="#2a1838" stroke-width="1"/><rect x="26.60" y="0" width="3.4" height="28.80" rx="1.2" fill="url(#pgV)" stroke="#2a1838" stroke-width="1"/></g>
<g transform="translate(435.80,113.00)"><rect x="3.2" y="2.2" width="23.60" height="26.60" fill="url(#pgV)" stroke="#2a1838" stroke-width="1.1"/><rect x="0" y="0" width="3.4" height="28.80" rx="1.2" fill="url(#pgV)" stroke="#2a1838" stroke-width="1"/><rect x="26.60" y="0" width="3.4" height="28.80" rx="1.2" fill="url(#pgV)" stroke="#2a1838" stroke-width="1"/></g>
<rect x="234" y="246.4" width="98" height="16.5" fill="url(#armV)" stroke="#484848" stroke-width="1.4"/>
<rect x="472" y="246.4" width="98" height="16.5" fill="url(#armV)" stroke="#484848" stroke-width="1.4"/>
<g transform="translate(221.00,253.50)"><rect x="-6.6" y="-21.70" width="13.2" height="6.5" rx="1.6" fill="url(#boltH)" stroke="#a0a0a0" stroke-width="0.8"/><path d="M-2.2,-21.70 v6.5 M2.2,-21.70 v6.5" stroke="#bbbbbb" stroke-width="0.6"/><rect x="-6.6" y="15.20" width="13.2" height="6.5" rx="1.6" fill="url(#boltH)" stroke="#a0a0a0" stroke-width="0.8"/><path d="M-2.2,15.20 v6.5 M2.2,15.20 v6.5" stroke="#bbbbbb" stroke-width="0.6"/><rect x="-15" y="-15.4" width="30" height="8.7" rx="1.5" fill="url(#pgH)" stroke="#1e1028" stroke-width="1.1"/><rect x="-12" y="-6.7" width="24" height="13.5" fill="url(#pgH)" stroke="#1e1028" stroke-width="1.1"/><rect x="-15" y="6.8" width="30" height="8.6" rx="1.5" fill="url(#pgH)" stroke="#1e1028" stroke-width="1.1"/></g>
<g transform="translate(344.80,254.20)"><rect x="-6.6" y="-21.70" width="13.2" height="6.5" rx="1.6" fill="url(#boltH)" stroke="#a0a0a0" stroke-width="0.8"/><path d="M-2.2,-21.70 v6.5 M2.2,-21.70 v6.5" stroke="#bbbbbb" stroke-width="0.6"/><rect x="-6.6" y="15.20" width="13.2" height="6.5" rx="1.6" fill="url(#boltH)" stroke="#a0a0a0" stroke-width="0.8"/><path d="M-2.2,15.20 v6.5 M2.2,15.20 v6.5" stroke="#bbbbbb" stroke-width="0.6"/><rect x="-15" y="-15.4" width="30" height="8.7" rx="1.5" fill="url(#pgH)" stroke="#1e1028" stroke-width="1.1"/><rect x="-12" y="-6.7" width="24" height="13.5" fill="url(#pgH)" stroke="#1e1028" stroke-width="1.1"/><rect x="-15" y="6.8" width="30" height="8.6" rx="1.5" fill="url(#pgH)" stroke="#1e1028" stroke-width="1.1"/></g>
<g transform="translate(459.00,253.30)"><rect x="-6.6" y="-21.70" width="13.2" height="6.5" rx="1.6" fill="url(#boltH)" stroke="#a0a0a0" stroke-width="0.8"/><path d="M-2.2,-21.70 v6.5 M2.2,-21.70 v6.5" stroke="#bbbbbb" stroke-width="0.6"/><rect x="-6.6" y="15.20" width="13.2" height="6.5" rx="1.6" fill="url(#boltH)" stroke="#a0a0a0" stroke-width="0.8"/><path d="M-2.2,15.20 v6.5 M2.2,15.20 v6.5" stroke="#bbbbbb" stroke-width="0.6"/><rect x="-15" y="-15.4" width="30" height="8.7" rx="1.5" fill="url(#pgH)" stroke="#1e1028" stroke-width="1.1"/><rect x="-12" y="-6.7" width="24" height="13.5" fill="url(#pgH)" stroke="#1e1028" stroke-width="1.1"/><rect x="-15" y="6.8" width="30" height="8.6" rx="1.5" fill="url(#pgH)" stroke="#1e1028" stroke-width="1.1"/></g>
<g transform="translate(582.75,254.20)"><rect x="-6.6" y="-21.70" width="13.2" height="6.5" rx="1.6" fill="url(#boltH)" stroke="#a0a0a0" stroke-width="0.8"/><path d="M-2.2,-21.70 v6.5 M2.2,-21.70 v6.5" stroke="#bbbbbb" stroke-width="0.6"/><rect x="-6.6" y="15.20" width="13.2" height="6.5" rx="1.6" fill="url(#boltH)" stroke="#a0a0a0" stroke-width="0.8"/><path d="M-2.2,15.20 v6.5 M2.2,15.20 v6.5" stroke="#bbbbbb" stroke-width="0.6"/><rect x="-15" y="-15.4" width="30" height="8.7" rx="1.5" fill="url(#pgH)" stroke="#1e1028" stroke-width="1.1"/><rect x="-12" y="-6.7" width="24" height="13.5" fill="url(#pgH)" stroke="#1e1028" stroke-width="1.1"/><rect x="-15" y="6.8" width="30" height="8.6" rx="1.5" fill="url(#pgH)" stroke="#1e1028" stroke-width="1.1"/></g>
<g transform="translate(301.50,490.25)"><path d="M4.85,22.55 L21.75,22.55 L34.45,14.70 L17.45,14.70 Z" fill="#a8a8a8" stroke="#111" stroke-width="1.1" stroke-linejoin="round"/><path d="M4.85,34.35 L21.75,34.35 L34.45,26.35 L17.45,26.35 Z" fill="#a8a8a8" stroke="#111" stroke-width="1.1" stroke-linejoin="round"/><path d="M4.85,45.85 L21.75,45.85 L34.45,38.15 L17.45,38.15 Z" fill="#a8a8a8" stroke="#111" stroke-width="1.1" stroke-linejoin="round"/><path d="M4.85,57.55 L21.75,57.55 L34.45,49.65 L17.45,49.65 Z" fill="#a8a8a8" stroke="#111" stroke-width="1.1" stroke-linejoin="round"/><rect x="9" y="9.5" width="24" height="6" fill="url(#coilV)" stroke="#111" stroke-width="1"/><rect x="2.25" y="21.45" width="36.75" height="6.00" rx="3.00" fill="url(#coilV)" stroke="#111" stroke-width="1.1"/><rect x="2.25" y="33.25" width="36.75" height="6.00" rx="3.00" fill="url(#coilV)" stroke="#111" stroke-width="1.1"/><rect x="2.25" y="44.75" width="36.75" height="6.00" rx="3.00" fill="url(#coilV)" stroke="#111" stroke-width="1.1"/><rect x="2.25" y="56.45" width="36.75" height="6.00" rx="3.00" fill="url(#coilV)" stroke="#111" stroke-width="1.1"/><path d="M9.8,9.8 L3.6,18.0 L2.8,16.0 L4.2,12.8" stroke="#5a5420" stroke-width="3.0" fill="none" stroke-linecap="round" stroke-linejoin="round"/><path d="M9.8,9.8 L3.6,18.0 L2.8,16.0 L4.2,12.8" stroke="#f4edc4" stroke-width="1.5" fill="none" stroke-linecap="round" stroke-linejoin="round"/><path d="M31.8,9.8 L38.0,18.0 L38.8,16.0 L37.4,12.8" stroke="#5a5420" stroke-width="3.0" fill="none" stroke-linecap="round" stroke-linejoin="round"/><path d="M31.8,9.8 L38.0,18.0 L38.8,16.0 L37.4,12.8" stroke="#f4edc4" stroke-width="1.5" fill="none" stroke-linecap="round" stroke-linejoin="round"/><rect x="0" y="0" width="42" height="10.0" rx="3.2" fill="url(#padV)" stroke="#4a3e10" stroke-width="1.1"/></g>
<g transform="translate(445.50,490.00)"><path d="M4.85,22.55 L21.75,22.55 L34.45,14.70 L17.45,14.70 Z" fill="#a8a8a8" stroke="#111" stroke-width="1.1" stroke-linejoin="round"/><path d="M4.85,34.35 L21.75,34.35 L34.45,26.35 L17.45,26.35 Z" fill="#a8a8a8" stroke="#111" stroke-width="1.1" stroke-linejoin="round"/><path d="M4.85,45.85 L21.75,45.85 L34.45,38.15 L17.45,38.15 Z" fill="#a8a8a8" stroke="#111" stroke-width="1.1" stroke-linejoin="round"/><path d="M4.85,57.55 L21.75,57.55 L34.45,49.65 L17.45,49.65 Z" fill="#a8a8a8" stroke="#111" stroke-width="1.1" stroke-linejoin="round"/><rect x="9" y="9.5" width="24" height="6" fill="url(#coilV)" stroke="#111" stroke-width="1"/><rect x="2.25" y="21.45" width="36.75" height="6.00" rx="3.00" fill="url(#coilV)" stroke="#111" stroke-width="1.1"/><rect x="2.25" y="33.25" width="36.75" height="6.00" rx="3.00" fill="url(#coilV)" stroke="#111" stroke-width="1.1"/><rect x="2.25" y="44.75" width="36.75" height="6.00" rx="3.00" fill="url(#coilV)" stroke="#111" stroke-width="1.1"/><rect x="2.25" y="56.45" width="36.75" height="6.00" rx="3.00" fill="url(#coilV)" stroke="#111" stroke-width="1.1"/><path d="M9.8,9.8 L3.6,18.0 L2.8,16.0 L4.2,12.8" stroke="#5a5420" stroke-width="3.0" fill="none" stroke-linecap="round" stroke-linejoin="round"/><path d="M9.8,9.8 L3.6,18.0 L2.8,16.0 L4.2,12.8" stroke="#f4edc4" stroke-width="1.5" fill="none" stroke-linecap="round" stroke-linejoin="round"/><path d="M31.8,9.8 L38.0,18.0 L38.8,16.0 L37.4,12.8" stroke="#5a5420" stroke-width="3.0" fill="none" stroke-linecap="round" stroke-linejoin="round"/><path d="M31.8,9.8 L38.0,18.0 L38.8,16.0 L37.4,12.8" stroke="#f4edc4" stroke-width="1.5" fill="none" stroke-linecap="round" stroke-linejoin="round"/><rect x="0" y="0" width="42" height="10.0" rx="3.2" fill="url(#padV)" stroke="#4a3e10" stroke-width="1.1"/></g>
<rect x="227.40" y="512" width="7" height="141.5" fill="url(#rodH)" stroke="#333" stroke-width="0.9"/>
<rect x="224.80" y="653.2" width="12.2" height="5.6" rx="1" fill="url(#boltH)" stroke="#999" stroke-width="0.7"/>
<g transform="translate(230.90,504.25)">
<rect x="-14.3" y="-4.1" width="4.6" height="8.2" rx="1" fill="url(#boltV)" stroke="#aaa" stroke-width="0.7"/>
<rect x="9.7" y="-4.1" width="4.6" height="8.2" rx="1" fill="url(#boltV)" stroke="#aaa" stroke-width="0.7"/>
<rect x="-4.3" y="-8" width="8.6" height="16" fill="url(#pgV)" stroke="#2a1838" stroke-width="1"/>
<rect x="-9.8" y="-9.5" width="5.6" height="19" rx="1" fill="url(#pgH)" stroke="#2a1838" stroke-width="1"/>
<rect x="4.2" y="-9.5" width="5.6" height="19" rx="1" fill="url(#pgH)" stroke="#2a1838" stroke-width="1"/>
</g>
<rect x="565.60" y="512" width="7" height="141.5" fill="url(#rodH)" stroke="#333" stroke-width="0.9"/>
<rect x="563.00" y="653.2" width="12.2" height="5.6" rx="1" fill="url(#boltH)" stroke="#999" stroke-width="0.7"/>
<g transform="translate(569.10,504.25)">
<rect x="-14.3" y="-4.1" width="4.6" height="8.2" rx="1" fill="url(#boltV)" stroke="#aaa" stroke-width="0.7"/>
<rect x="9.7" y="-4.1" width="4.6" height="8.2" rx="1" fill="url(#boltV)" stroke="#aaa" stroke-width="0.7"/>
<rect x="-4.3" y="-8" width="8.6" height="16" fill="url(#pgV)" stroke="#2a1838" stroke-width="1"/>
<rect x="-9.8" y="-9.5" width="5.6" height="19" rx="1" fill="url(#pgH)" stroke="#2a1838" stroke-width="1"/>
<rect x="4.2" y="-9.5" width="5.6" height="19" rx="1" fill="url(#pgH)" stroke="#2a1838" stroke-width="1"/>
</g>
<path d="M259,667 C259,630 278,613.4 315,613.4 L485,613.4 C522,613.4 541,630 541,667" fill="none" stroke="#111" stroke-width="2.6"/>
<g transform="translate(335.20,599.20)"><rect x="3.2" y="2.2" width="23.60" height="25.80" fill="url(#pgV)" stroke="#2a1838" stroke-width="1.1"/><rect x="0" y="0" width="3.4" height="28.00" rx="1.2" fill="url(#pgV)" stroke="#2a1838" stroke-width="1"/><rect x="26.60" y="0" width="3.4" height="28.00" rx="1.2" fill="url(#pgV)" stroke="#2a1838" stroke-width="1"/></g>
<g transform="translate(435.80,599.20)"><rect x="3.2" y="2.2" width="23.60" height="25.80" fill="url(#pgV)" stroke="#2a1838" stroke-width="1.1"/><rect x="0" y="0" width="3.4" height="28.00" rx="1.2" fill="url(#pgV)" stroke="#2a1838" stroke-width="1"/><rect x="26.60" y="0" width="3.4" height="28.00" rx="1.2" fill="url(#pgV)" stroke="#2a1838" stroke-width="1"/></g>
<rect x="204" y="666.3" width="140" height="17.3" rx="2.5" fill="url(#armV)" stroke="#484848" stroke-width="1.4"/>
<rect x="456" y="666.3" width="140" height="17.3" rx="2.5" fill="url(#armV)" stroke="#484848" stroke-width="1.4"/>
<g transform="translate(231.00,674.50)"><rect x="-6.6" y="-21.70" width="13.2" height="6.5" rx="1.6" fill="url(#boltH)" stroke="#a0a0a0" stroke-width="0.8"/><path d="M-2.2,-21.70 v6.5 M2.2,-21.70 v6.5" stroke="#bbbbbb" stroke-width="0.6"/><rect x="-6.6" y="15.20" width="13.2" height="6.5" rx="1.6" fill="url(#boltH)" stroke="#a0a0a0" stroke-width="0.8"/><path d="M-2.2,15.20 v6.5 M2.2,15.20 v6.5" stroke="#bbbbbb" stroke-width="0.6"/><rect x="-15" y="-15.4" width="30" height="8.7" rx="1.5" fill="url(#pgH)" stroke="#1e1028" stroke-width="1.1"/><rect x="-12" y="-6.7" width="24" height="13.5" fill="url(#pgH)" stroke="#1e1028" stroke-width="1.1"/><rect x="-15" y="6.8" width="30" height="8.6" rx="1.5" fill="url(#pgH)" stroke="#1e1028" stroke-width="1.1"/></g>
<g transform="translate(355.00,674.50)"><rect x="-6.6" y="-21.70" width="13.2" height="6.5" rx="1.6" fill="url(#boltH)" stroke="#a0a0a0" stroke-width="0.8"/><path d="M-2.2,-21.70 v6.5 M2.2,-21.70 v6.5" stroke="#bbbbbb" stroke-width="0.6"/><rect x="-6.6" y="15.20" width="13.2" height="6.5" rx="1.6" fill="url(#boltH)" stroke="#a0a0a0" stroke-width="0.8"/><path d="M-2.2,15.20 v6.5 M2.2,15.20 v6.5" stroke="#bbbbbb" stroke-width="0.6"/><rect x="-15" y="-15.4" width="30" height="8.7" rx="1.5" fill="url(#bgH)" stroke="#000" stroke-width="1.1"/><rect x="-12" y="-6.7" width="24" height="13.5" fill="url(#bgH)" stroke="#000" stroke-width="1.1"/><rect x="-15" y="6.8" width="30" height="8.6" rx="1.5" fill="url(#bgH)" stroke="#000" stroke-width="1.1"/></g>
<g transform="translate(445.00,674.50)"><rect x="-6.6" y="-21.70" width="13.2" height="6.5" rx="1.6" fill="url(#boltH)" stroke="#a0a0a0" stroke-width="0.8"/><path d="M-2.2,-21.70 v6.5 M2.2,-21.70 v6.5" stroke="#bbbbbb" stroke-width="0.6"/><rect x="-6.6" y="15.20" width="13.2" height="6.5" rx="1.6" fill="url(#boltH)" stroke="#a0a0a0" stroke-width="0.8"/><path d="M-2.2,15.20 v6.5 M2.2,15.20 v6.5" stroke="#bbbbbb" stroke-width="0.6"/><rect x="-15" y="-15.4" width="30" height="8.7" rx="1.5" fill="url(#bgH)" stroke="#000" stroke-width="1.1"/><rect x="-12" y="-6.7" width="24" height="13.5" fill="url(#bgH)" stroke="#000" stroke-width="1.1"/><rect x="-15" y="6.8" width="30" height="8.6" rx="1.5" fill="url(#bgH)" stroke="#000" stroke-width="1.1"/></g>
<g transform="translate(569.00,674.50)"><rect x="-6.6" y="-21.70" width="13.2" height="6.5" rx="1.6" fill="url(#boltH)" stroke="#a0a0a0" stroke-width="0.8"/><path d="M-2.2,-21.70 v6.5 M2.2,-21.70 v6.5" stroke="#bbbbbb" stroke-width="0.6"/><rect x="-6.6" y="15.20" width="13.2" height="6.5" rx="1.6" fill="url(#boltH)" stroke="#a0a0a0" stroke-width="0.8"/><path d="M-2.2,15.20 v6.5 M2.2,15.20 v6.5" stroke="#bbbbbb" stroke-width="0.6"/><rect x="-15" y="-15.4" width="30" height="8.7" rx="1.5" fill="url(#pgH)" stroke="#1e1028" stroke-width="1.1"/><rect x="-12" y="-6.7" width="24" height="13.5" fill="url(#pgH)" stroke="#1e1028" stroke-width="1.1"/><rect x="-15" y="6.8" width="30" height="8.6" rx="1.5" fill="url(#pgH)" stroke="#1e1028" stroke-width="1.1"/></g>
<rect x="211.70" y="641" width="5" height="73" fill="url(#rodH)" stroke="#555" stroke-width="0.7"/>
<rect x="211.00" y="624.8" width="6.4" height="3.5" rx="1" fill="#eee" stroke="#aaa" stroke-width="0.6"/>
<rect x="211.00" y="640.3" width="6.4" height="3.5" fill="#eee" stroke="#aaa" stroke-width="0.6"/>
<rect x="207.80" y="632.8" width="12.8" height="8" fill="url(#bgH)" stroke="#000" stroke-width="1"/>
<rect x="206.20" y="627.8" width="16" height="5.4" rx="1.6" fill="url(#bgH)" stroke="#000" stroke-width="1"/>
<rect x="211.00" y="712.2" width="6.4" height="3.5" fill="#eee" stroke="#aaa" stroke-width="0.6"/>
<rect x="211.00" y="727.3" width="6.4" height="3.5" rx="1" fill="#eee" stroke="#aaa" stroke-width="0.6"/>
<rect x="207.80" y="715" width="12.8" height="8.2" fill="url(#bgH)" stroke="#000" stroke-width="1"/>
<rect x="206.20" y="722.8" width="16" height="4.8" rx="1.6" fill="url(#bgH)" stroke="#000" stroke-width="1"/>
<rect x="583.30" y="641" width="5" height="73" fill="url(#rodH)" stroke="#555" stroke-width="0.7"/>
<rect x="582.60" y="624.8" width="6.4" height="3.5" rx="1" fill="#eee" stroke="#aaa" stroke-width="0.6"/>
<rect x="582.60" y="640.3" width="6.4" height="3.5" fill="#eee" stroke="#aaa" stroke-width="0.6"/>
<rect x="579.40" y="632.8" width="12.8" height="8" fill="url(#bgH)" stroke="#000" stroke-width="1"/>
<rect x="577.80" y="627.8" width="16" height="5.4" rx="1.6" fill="url(#bgH)" stroke="#000" stroke-width="1"/>
<rect x="582.60" y="712.2" width="6.4" height="3.5" fill="#eee" stroke="#aaa" stroke-width="0.6"/>
<rect x="582.60" y="727.3" width="6.4" height="3.5" rx="1" fill="#eee" stroke="#aaa" stroke-width="0.6"/>
<rect x="579.40" y="715" width="12.8" height="8.2" fill="url(#bgH)" stroke="#000" stroke-width="1"/>
<rect x="577.80" y="722.8" width="16" height="4.8" rx="1.6" fill="url(#bgH)" stroke="#000" stroke-width="1"/>
<circle cx="227.60" cy="198.00" r="14.60" fill="#fff" stroke="#000" stroke-width="1.75"/><text x="228.20" y="204.10" font-family="Liberation Serif" font-weight="bold" font-style="italic" font-size="17" text-anchor="middle" stroke="#000" stroke-width="1.3" stroke-linejoin="round" fill="#000">1</text><path d="M226.00,212.60 L225.02,225.52" stroke="#000" stroke-width="1.6"/><path d="M224.60,231.00 L221.90,224.28 L228.28,224.76 Z" fill="#000"/>
<circle cx="333.60" cy="194.90" r="14.60" fill="#fff" stroke="#000" stroke-width="1.75"/><text x="334.20" y="201.00" font-family="Liberation Serif" font-weight="bold" font-style="italic" font-size="17" textLength="10.6" lengthAdjust="spacingAndGlyphs" text-anchor="middle" stroke="#000" stroke-width="1.3" stroke-linejoin="round" fill="#000">2</text><path d="M336.40,209.50 L339.97,224.40" stroke="#000" stroke-width="1.6"/><path d="M341.25,229.75 L336.62,224.17 L342.85,222.68 Z" fill="#000"/>
<circle cx="403.75" cy="147.90" r="14.60" fill="#fff" stroke="#000" stroke-width="1.75"/><text x="404.35" y="154.00" font-family="Liberation Serif" font-weight="bold" font-style="italic" font-size="17" textLength="10.6" lengthAdjust="spacingAndGlyphs" text-anchor="middle" stroke="#000" stroke-width="1.3" stroke-linejoin="round" fill="#000">3</text><path d="M389.40,144.60 L373.32,140.39" stroke="#000" stroke-width="1.6"/><path d="M368.00,139.00 L375.10,137.55 L373.48,143.74 Z" fill="#000"/>
<circle cx="287.10" cy="112.90" r="14.60" fill="#fff" stroke="#000" stroke-width="1.75"/><text x="287.70" y="119.00" font-family="Liberation Serif" font-weight="bold" font-style="italic" font-size="17" textLength="10.6" lengthAdjust="spacingAndGlyphs" text-anchor="middle" stroke="#000" stroke-width="1.3" stroke-linejoin="round" fill="#000">4</text><path d="M272.90,109.90 L258.73,106.34" stroke="#000" stroke-width="1.6"/><path d="M253.40,105.00 L260.48,103.48 L258.92,109.69 Z" fill="#000"/>
<circle cx="501.90" cy="106.90" r="14.60" fill="#fff" stroke="#000" stroke-width="1.75"/><text x="502.50" y="113.00" font-family="Liberation Serif" font-weight="bold" font-style="italic" font-size="17" textLength="10.6" lengthAdjust="spacingAndGlyphs" text-anchor="middle" stroke="#000" stroke-width="1.3" stroke-linejoin="round" fill="#000">4</text><path d="M516.00,103.00 L530.93,99.69" stroke="#000" stroke-width="1.6"/><path d="M536.30,98.50 L530.65,103.03 L529.26,96.78 Z" fill="#000"/>
<circle cx="257.90" cy="726.10" r="14.60" fill="#fff" stroke="#000" stroke-width="1.75"/><text x="258.50" y="732.20" font-family="Liberation Serif" font-weight="bold" font-style="italic" font-size="17" textLength="10.6" lengthAdjust="spacingAndGlyphs" text-anchor="middle" stroke="#000" stroke-width="1.3" stroke-linejoin="round" fill="#000">5</text><path d="M251.50,713.00 L246.28,701.51" stroke="#000" stroke-width="1.6"/><path d="M244.00,696.50 L249.60,701.09 L243.78,703.74 Z" fill="#000"/>
<circle cx="331.40" cy="730.60" r="14.60" fill="#fff" stroke="#000" stroke-width="1.75"/><text x="332.00" y="736.70" font-family="Liberation Serif" font-weight="bold" font-style="italic" font-size="17" textLength="10.6" lengthAdjust="spacingAndGlyphs" text-anchor="middle" stroke="#000" stroke-width="1.3" stroke-linejoin="round" fill="#000">6</text><path d="M335.20,716.00 L342.76,700.73" stroke="#000" stroke-width="1.6"/><path d="M345.20,695.80 L345.18,703.04 L339.45,700.21 Z" fill="#000"/>
<circle cx="426.75" cy="562.35" r="14.60" fill="#fff" stroke="#000" stroke-width="1.75"/><text x="427.35" y="568.45" font-family="Liberation Serif" font-weight="bold" font-style="italic" font-size="17" textLength="10.6" lengthAdjust="spacingAndGlyphs" text-anchor="middle" stroke="#000" stroke-width="1.3" stroke-linejoin="round" fill="#000">7</text><path d="M429.00,577.00 L433.49,591.64" stroke="#000" stroke-width="1.6"/><path d="M435.10,596.90 L430.14,591.62 L436.25,589.75 Z" fill="#000"/>
<circle cx="221.90" cy="458.80" r="14.60" fill="#fff" stroke="#000" stroke-width="1.75"/><text x="222.50" y="464.90" font-family="Liberation Serif" font-weight="bold" font-style="italic" font-size="17" textLength="10.6" lengthAdjust="spacingAndGlyphs" text-anchor="middle" stroke="#000" stroke-width="1.3" stroke-linejoin="round" fill="#000">8</text><path d="M224.55,473.20 L228.40,487.78" stroke="#000" stroke-width="1.6"/><path d="M229.80,493.10 L225.05,487.63 L231.24,486.00 Z" fill="#000"/>
<circle cx="209.95" cy="563.90" r="14.60" fill="#fff" stroke="#000" stroke-width="1.75"/><text x="210.55" y="570.00" font-family="Liberation Serif" font-weight="bold" font-style="italic" font-size="17" textLength="10.6" lengthAdjust="spacingAndGlyphs" text-anchor="middle" stroke="#000" stroke-width="1.3" stroke-linejoin="round" fill="#000">9</text><path d="M209.65,578.50 L212.91,614.52" stroke="#000" stroke-width="1.6"/><path d="M213.40,620.00 L209.63,613.81 L216.00,613.24 Z" fill="#000"/>
<circle cx="303.50" cy="451.00" r="14.60" fill="#fff" stroke="#000" stroke-width="1.75"/><text x="291.90" y="456.80" font-family="Liberation Serif" font-weight="bold" font-style="italic" font-size="17" textLength="22.6" lengthAdjust="spacingAndGlyphs" stroke="#000" stroke-width="1.3" stroke-linejoin="round" fill="#000">20</text><path d="M306.00,465.25 L310.07,480.44" stroke="#000" stroke-width="1.6"/><path d="M311.50,485.75 L306.72,480.30 L312.91,478.64 Z" fill="#000"/>
<circle cx="487.75" cy="451.15" r="14.60" fill="#fff" stroke="#000" stroke-width="1.75"/><text x="476.15" y="456.95" font-family="Liberation Serif" font-weight="bold" font-style="italic" font-size="17" textLength="22.6" lengthAdjust="spacingAndGlyphs" stroke="#000" stroke-width="1.3" stroke-linejoin="round" fill="#000">20</text><path d="M484.50,465.80 L481.24,479.94" stroke="#000" stroke-width="1.6"/><path d="M480.00,485.30 L478.34,478.25 L484.58,479.69 Z" fill="#000"/>
<path d="M566,301 L571.3,283" stroke="#000" stroke-width="1.6"/><path d="M572.3,276.8 L575,284.5 L568.6,282.6 Z" fill="#000"/>
<text x="563.3" y="311" font-family="Liberation Sans" font-weight="bold" font-size="9.6" textLength="45.5" lengthAdjust="spacingAndGlyphs" text-anchor="middle" fill="#111">Left Hand</text>
<text x="564" y="321" font-family="Liberation Sans" font-weight="bold" font-size="9.6" textLength="63.5" lengthAdjust="spacingAndGlyphs" text-anchor="middle" fill="#111">Threaded Nut</text>
</svg></body></html>
